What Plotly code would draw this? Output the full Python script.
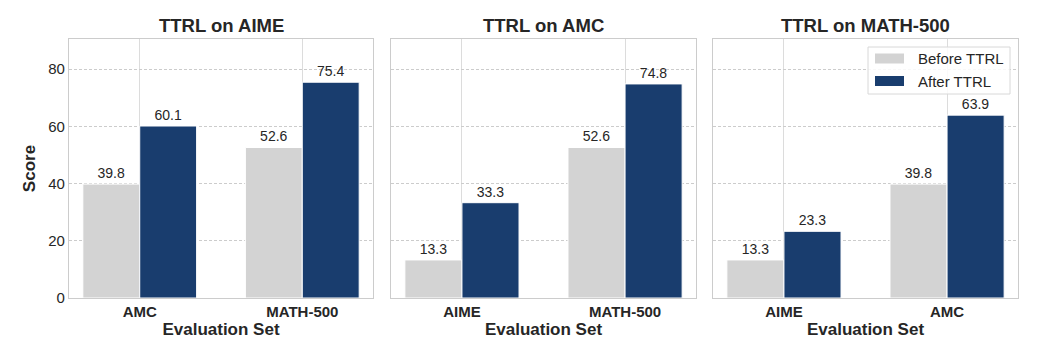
import plotly.graph_objects as go

titles = ["TTRL on AIME", "TTRL on AMC", "TTRL on MATH-500"]
categories = [["AMC", "MATH-500"], ["AIME", "MATH-500"], ["AIME", "AMC"]]
before = [[39.8, 52.6], [13.3, 52.6], [13.3, 39.8]]
after = [[60.1, 75.4], [33.3, 74.8], [23.3, 63.9]]
series_names = ["Before TTRL", "After TTRL"]
colors = ["#d3d3d3", "#193d6e"]

FONT = "Liberation Sans, Arial, sans-serif"
TXT = "#262626"
W, H = 1051, 364

fig = go.Figure()
domains = [(69/W, 373/W), (391/W, 696/W), (713/W, 1018/W)]
ydom = (1 - 298/H, 1 - 39/H)

for i in range(3):
    xa = "x" if i == 0 else f"x{i+1}"
    ya = "y" if i == 0 else f"y{i+1}"
    for s, (vals, name, col) in enumerate(zip([before[i], after[i]], series_names, colors)):
        fig.add_trace(go.Bar(
            x=categories[i], y=vals, name=name, xaxis=xa, yaxis=ya,
            marker=dict(color=col, line=dict(color="white", width=1)),
            text=[f"{v:.1f}" for v in vals], textposition="outside",
            textfont=dict(size=14, color=TXT, family=FONT),
            cliponaxis=False, showlegend=False, offsetgroup=str(s),
        ))
    xkey = "xaxis" if i == 0 else f"xaxis{i+1}"
    ykey = "yaxis" if i == 0 else f"yaxis{i+1}"
    fig.layout[xkey] = dict(
        domain=list(domains[i]), anchor=ya, type="category", automargin=False,
        range=[-0.435, 1.435], showgrid=True, gridcolor="#dcdcdc", gridwidth=1,
        showline=True, mirror=True, linecolor="#cccccc", linewidth=1.2,
        ticks="", tickfont=dict(size=15, color=TXT, family=FONT, weight="bold"),
        title=dict(text="Evaluation Set", font=dict(size=17, color=TXT, family=FONT, weight="bold"), standoff=4),
        zeroline=False,
    )
    fig.layout[ykey] = dict(
        domain=list(ydom), anchor=xa, range=[0, 90.5], automargin=False,
        tickvals=[0, 20, 40, 60, 80], showticklabels=(i == 0),
        showgrid=True, gridcolor="#cccccc", griddash="3px,2px", gridwidth=1,
        showline=True, mirror=True, linecolor="#cccccc", linewidth=1.2,
        ticks="", tickfont=dict(size=15, color=TXT, family=FONT),
        zeroline=False,
        title=dict(text="Score" if i == 0 else "", font=dict(size=17, color=TXT, family=FONT, weight="bold"), standoff=8),
    )
    if i > 0:
        fig.layout[ykey].matches = "y"
    fig.add_annotation(
        text=f"<b>{titles[i]}</b>", x=(domains[i][0] + domains[i][1]) / 2, y=1 - 26/H,
        xref="paper", yref="paper", showarrow=False, xanchor="center", yanchor="middle",
        font=dict(size=18.5, color=TXT, family=FONT),
    )

# Manual legend (styled like the matplotlib one)
def px_x(x): return x / W
def px_y(y): return 1 - y / H

fig.add_shape(type="rect", xref="paper", yref="paper",
              x0=px_x(868), x1=px_x(1010), y0=px_y(94), y1=px_y(47),
              line=dict(color="#d8d8d8", width=1), fillcolor="rgba(255,255,255,0.85)", layer="above")
for k, (name, col) in enumerate(zip(series_names, colors)):
    cy = 58.5 + 22.5 * k
    fig.add_shape(type="rect", xref="paper", yref="paper",
                  x0=px_x(875), x1=px_x(904), y0=px_y(cy + 5), y1=px_y(cy - 5),
                  line=dict(width=0), fillcolor=col, layer="above")
    fig.add_annotation(text=name, x=px_x(916), y=px_y(cy), xref="paper", yref="paper",
                       xanchor="left", yanchor="middle", showarrow=False,
                       font=dict(size=15, color=TXT, family=FONT))

fig.update_layout(
    width=W, height=H, margin=dict(l=0, r=0, t=0, b=0),
    paper_bgcolor="white", plot_bgcolor="white",
    barmode="group", bargap=0.3, bargroupgap=0,
    font=dict(family=FONT, color=TXT), showlegend=False,
)

fig.write_html("out.html", post_script="document.body.style.margin='0px';",
               config={"displayModeBar": False})
